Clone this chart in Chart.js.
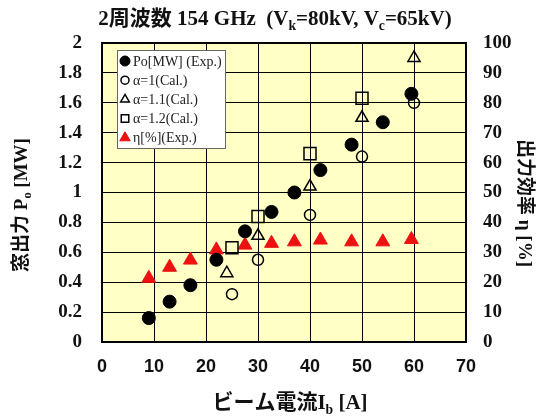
<!DOCTYPE html>
<html>
<head>
<meta charset="utf-8">
<script src="https://cdn.jsdelivr.net/npm/chart.js@4/dist/chart.umd.min.js"></script>
<style>
  html, body { margin: 0; padding: 0; background: #fff; }
  #wrap { width: 545px; height: 416px; position: relative; }
</style>
</head>
<body>
<div id="wrap"><canvas id="c" width="545" height="416"></canvas></div>
<script>
// beam current [A] and output values
const expCurrent = [9, 13, 17, 22, 27.5, 32.6, 37, 42, 48, 54, 59.5];
const expPower = [0.16, 0.27, 0.38, 0.55, 0.74, 0.87, 1.0, 1.15, 1.32, 1.47, 1.66];
const expEff = [21.3, 25, 27.4, 30.8, 32.4, 33, 33.5, 34.1, 33.5, 33.5, 34.3];

const calCurrent1 = [25, 30, 40, 50, 60];
const calPower1 = [0.32, 0.55, 0.85, 1.24, 1.6];
const calCurrent11 = [24, 30, 40, 50, 60];
const calPower11 = [0.46, 0.71, 1.04, 1.5, 1.9];
const calCurrent12 = [25, 30, 40, 50];
const calPower12 = [0.63, 0.84, 1.26, 1.63];

const xTicks = [0, 10, 20, 30, 40, 50, 60, 70];
const leftTicks = [0, 0.2, 0.4, 0.6, 0.8, 1, 1.2, 1.4, 1.6, 1.8, 2];
const rightTicks = [0, 10, 20, 30, 40, 50, 60, 70, 80, 90, 100];

const pts = (xs, ys) => xs.map((x, i) => ({ x, y: ys[i] }));

const SERIF = '"Liberation Serif", "Noto Sans CJK JP", serif';
const SANS = '"Liberation Sans", Arial, sans-serif';

// draw text made of segments, some of them subscripted
function richWidth(ctx, segs, size) {
  let w = 0;
  segs.forEach(s => {
    ctx.font = 'bold ' + (s.sub ? size * 0.65 : size) + 'px ' + SERIF;
    w += ctx.measureText(s.t).width;
  });
  return w;
}
function drawRich(ctx, segs, cx, cy, size) {
  const w = richWidth(ctx, segs, size);
  let x = cx - w / 2;
  ctx.textBaseline = 'middle';
  ctx.textAlign = 'left';
  segs.forEach(s => {
    const fs = s.sub ? size * 0.65 : size;
    ctx.font = 'bold ' + fs + 'px ' + SERIF;
    ctx.fillText(s.t, x, s.sub ? cy + size * 0.3 : cy);
    x += ctx.measureText(s.t).width;
  });
}

const decor = {
  id: 'decor',
  beforeDraw(chart) {
    const { ctx, chartArea: a } = chart;
    ctx.save();
    ctx.fillStyle = '#ffffc6';
    ctx.fillRect(a.left, a.top, a.right - a.left, a.bottom - a.top);
    ctx.restore();
  },
  beforeDatasetsDraw(chart) {
    const { ctx, chartArea: a } = chart;
    ctx.save();
    ctx.strokeStyle = '#000';
    ctx.lineWidth = 2;
    ctx.strokeRect(a.left, a.top, a.right - a.left, a.bottom - a.top);
    ctx.restore();
  },
  afterDraw(chart) {
    const { ctx } = chart;
    ctx.save();
    ctx.fillStyle = '#111';
    drawRich(ctx, [{ t: '2周波数 154 GHz  (V' }, { t: 'k', sub: true }, { t: '=80kV, V' }, { t: 'c', sub: true }, { t: '=65kV)' }], 275, 20, 21);
    drawRich(ctx, [{ t: 'ビーム電流I' }, { t: 'b', sub: true }, { t: ' [A]' }], 290, 404, 21);
    ctx.save();
    ctx.translate(22, 205);
    ctx.rotate(-Math.PI / 2);
    drawRich(ctx, [{ t: '窓出力 P' }, { t: 'o', sub: true }, { t: ' [MW]' }], 0, 0, 19);
    ctx.restore();
    ctx.save();
    ctx.translate(524, 203);
    ctx.rotate(Math.PI / 2);
    drawRich(ctx, [{ t: '出力効率 η [%]' }], 0, 0, 19);
    ctx.restore();

    // legend box inside the plot
    const lx = 117, ly = 50, lw = 108, lh = 98;
    ctx.fillStyle = '#fff';
    ctx.fillRect(lx, ly, lw, lh);
    ctx.strokeStyle = '#666';
    ctx.lineWidth = 1;
    ctx.strokeRect(lx + 0.5, ly + 0.5, lw, lh);
    chart.data.datasets.forEach((ds, i) => {
      const cy = ly + 11 + i * 19.2;
      const st = ds.pointStyle, r = ds.legendRadius, mx = lx + 8;
      ctx.fillStyle = ds.backgroundColor;
      ctx.strokeStyle = ds.borderColor;
      ctx.lineWidth = ds.borderWidth;
      ctx.beginPath();
      if (st === 'circle') ctx.arc(mx, cy, r, 0, Math.PI * 2);
      else if (st === 'rect') ctx.rect(mx - r * 0.75, cy - r * 0.75, r * 1.5, r * 1.5);
      else {
        ctx.moveTo(mx, cy - r);
        ctx.lineTo(mx + r * 0.87, cy + r * 0.5);
        ctx.lineTo(mx - r * 0.87, cy + r * 0.5);
        ctx.closePath();
      }
      if (ds.backgroundColor !== 'rgba(0,0,0,0)') ctx.fill();
      ctx.stroke();
      ctx.fillStyle = '#222';
      ctx.font = '14px ' + SERIF;
      ctx.textAlign = 'left';
      ctx.textBaseline = 'middle';
      ctx.fillText(ds.label, lx + 16, cy + 1);
    });
    ctx.restore();
  }
};

new Chart(document.getElementById('c'), {
  type: 'scatter',
  data: {
    datasets: [
      { label: 'Po[MW] (Exp.)', data: pts(expCurrent, expPower), yAxisID: 'y', pointStyle: 'circle', pointRadius: 6.5, legendRadius: 5, backgroundColor: '#000', borderColor: '#000', borderWidth: 1 },
      { label: 'α=1(Cal.)', data: pts(calCurrent1, calPower1), yAxisID: 'y', pointStyle: 'circle', pointRadius: 5.5, legendRadius: 4, backgroundColor: 'rgba(0,0,0,0)', borderColor: '#000', borderWidth: 1.5 },
      { label: 'α=1.1(Cal.)', data: pts(calCurrent11, calPower11), yAxisID: 'y', pointStyle: 'triangle', pointRadius: 7, legendRadius: 5, backgroundColor: 'rgba(0,0,0,0)', borderColor: '#000', borderWidth: 1.5 },
      { label: 'α=1.2(Cal.)', data: pts(calCurrent12, calPower12), yAxisID: 'y', pointStyle: 'rect', pointRadius: 8.5, legendRadius: 5, backgroundColor: 'rgba(0,0,0,0)', borderColor: '#000', borderWidth: 1.5 },
      { label: 'η[%](Exp.)', data: pts(expCurrent, expEff), yAxisID: 'y2', pointStyle: 'triangle', pointRadius: 8, legendRadius: 6, backgroundColor: '#ee1111', borderColor: '#ee1111', borderWidth: 1 }
    ]
  },
  options: {
    responsive: false,
    animation: false,
    layout: { padding: { top: 43, left: 0, right: 0, bottom: 0 } },
    plugins: { legend: { display: false }, tooltip: { enabled: false } },
    scales: {
      x: {
        type: 'linear', min: 0, max: 70,
        afterBuildTicks: s => { s.ticks = xTicks.map(v => ({ value: v })); },
        afterFit: s => { s.height = 74; },
        grid: { color: '#000', lineWidth: 1, drawTicks: false },
        border: { display: false },
        ticks: { color: '#111', padding: 14, font: { family: SANS, size: 18, weight: 'bold' }, callback: v => String(v) }
      },
      y: {
        position: 'left', min: 0, max: 2,
        afterBuildTicks: s => { s.ticks = leftTicks.map(v => ({ value: v })); },
        afterFit: s => { s.width = 102; },
        grid: { color: '#000', lineWidth: 1, drawTicks: false },
        border: { display: false },
        ticks: { color: '#111', padding: 20, font: { family: SERIF, size: 19, weight: 'bold' }, callback: v => String(Math.round(v * 10) / 10) }
      },
      y2: {
        position: 'right', min: 0, max: 100,
        afterBuildTicks: s => { s.ticks = rightTicks.map(v => ({ value: v })); },
        afterFit: s => { s.width = 79; },
        grid: { display: false, drawTicks: false },
        border: { display: false },
        ticks: { color: '#111', padding: 17, font: { family: SERIF, size: 19, weight: 'bold' }, callback: v => String(v) }
      }
    }
  },
  plugins: [decor]
});
</script>
</body>
</html>
